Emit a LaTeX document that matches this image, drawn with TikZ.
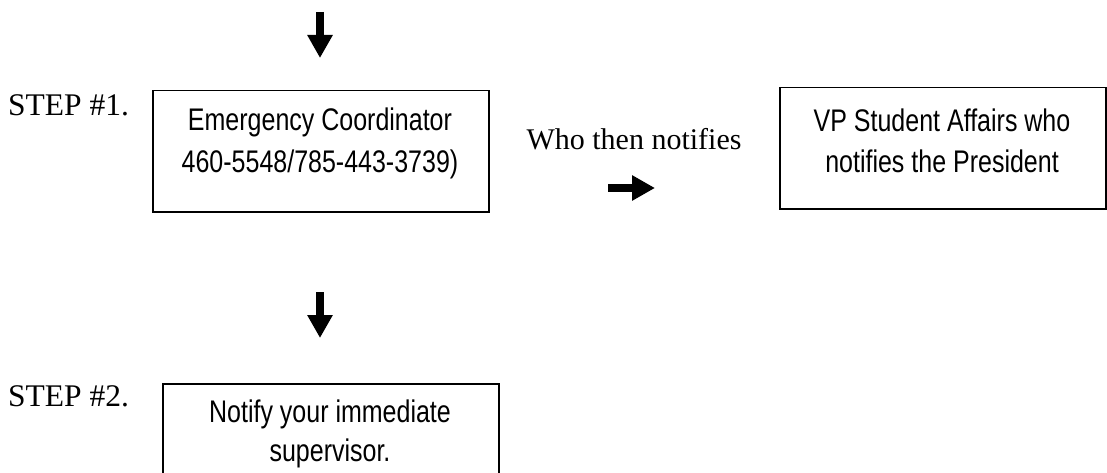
\documentclass[tikz,border=0pt]{standalone}
\usepackage{fontspec}
\setmainfont{Liberation Serif}
\newfontfamily\arialfont{Liberation Sans}
\usetikzlibrary{arrows.meta}
\newcommand{\tallsans}[1]{\scalebox{1}[1.25]{\arialfont\fontsize{25}{29}\selectfont #1}}
\tikzset{
  box/.style={draw=black, line width=1.5pt, anchor=north west, inner sep=0pt},
  boxtext/.style={anchor=base, inner sep=0pt},
  serif/.style={anchor=base west, inner sep=0pt, font=\fontsize{31.5}{36}\selectfont},
  blockarrow/.style={line width=8pt, -{Triangle[length=23pt,width=24pt]}},
}
\begin{document}
\begin{tikzpicture}[x=1pt,y=-1pt]
\useasboundingbox (0,0) rectangle (1107,473);
% boxes
\node[box, minimum width=336pt, minimum height=121pt] (ec) at (152,90) {};
\node[box, minimum width=326pt, minimum height=121pt] (vp) at (779,87) {};
\node[box, minimum width=336pt, minimum height=110pt] (sup) at (162,383) {};
% box texts
\node[boxtext] (ec1) at (320,131) {\tallsans{Emergency Coordinator}};
\node[boxtext] (ec2) at (320,172) {\tallsans{460-5548/785-443-3739)}};
\node[boxtext] (vp1) at (942,132) {\tallsans{VP Student Affairs who}};
\node[boxtext] (vp2) at (942,173) {\tallsans{notifies the President}};
\node[boxtext] (sup1) at (330,422) {\tallsans{Notify your immediate}};
\node[boxtext] (sup2) at (330,461) {\tallsans{supervisor.}};
% labels
\node[serif] (s1) at (8,116) {STEP \#1.};
\node[serif] (s2) at (8,406) {STEP \#2.};
\node[serif, font=\fontsize{30}{34}\selectfont, anchor=base] (who) at (634,150) {Who then notifies};
% arrows
\coordinate (a1s) at (320,12);
\coordinate (a1e) at (320,58);
\coordinate (a2s) at (320,292);
\coordinate (a2e) at (320,338);
\coordinate (a3s) at (608,188);
\coordinate (a3e) at (655,188);
\draw[blockarrow] (a1s) -- (a1e);
\draw[blockarrow] (a2s) -- (a2e);
\draw[blockarrow] (a3s) -- (a3e);
\end{tikzpicture}
\end{document}
